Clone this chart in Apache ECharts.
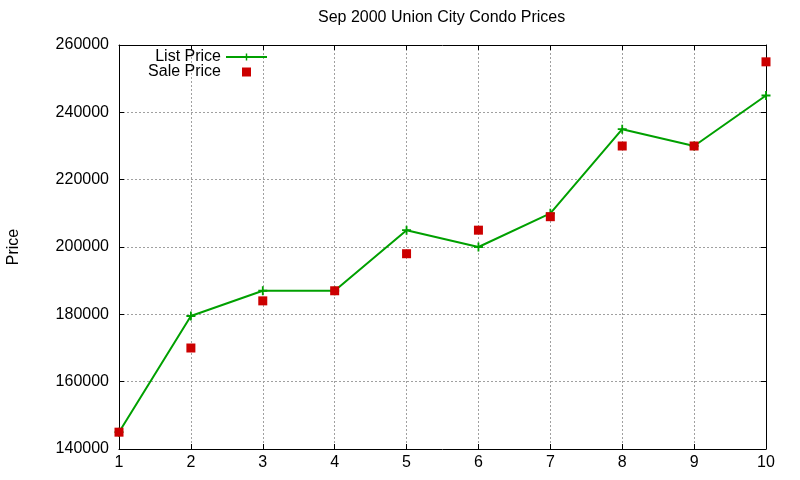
<!DOCTYPE html>
<html>
<head>
<meta charset="utf-8">
<script src="https://cdn.jsdelivr.net/npm/echarts@6/dist/echarts.min.js"></script>
<style>
  html, body { margin: 0; padding: 0; background: #fff; }
  #main { width: 800px; height: 480px; }
</style>
</head>
<body>
<div id="main"></div>
<script>
// data
var months = [1, 2, 3, 4, 5, 6, 7, 8, 9, 10];
var listPrice = [145000, 179500, 187000, 187000, 205000, 200000, 210000, 235000, 230000, 245000];
var salePrice = [145000, 170000, 184000, 187000, 198000, 205000, 209000, 230000, 230000, 255000];

var FONT = '"Liberation Sans", Arial, sans-serif';
var GRID_LINE = { show: true, lineStyle: { color: '#a0a0a0', type: [2, 2], width: 1 } };

function pairs(xs, ys) {
  return xs.map(function (x, i) { return [x, ys[i]]; });
}

var chart = echarts.init(document.getElementById('main'));
chart.setOption({
  animation: false,
  backgroundColor: '#fff',
  title: {
    text: 'Sep 2000 Union City Condo Prices',
    left: 318,
    top: 10,
    padding: 0,
    textStyle: { fontFamily: FONT, fontSize: 16, fontWeight: 'normal', color: '#000' }
  },
  legend: {
    orient: 'vertical',
    right: 527,
    top: 44,
    align: 'right',
    itemWidth: 41,
    itemHeight: 9,
    itemGap: -1,
    symbolKeepAspect: true,
    textStyle: { fontFamily: FONT, fontSize: 16, color: '#000' },
    data: [
      { name: 'List Price' },
      { name: 'Sale Price', icon: 'path://M0,0H10V10H0Z' }
    ]
  },
  grid: { left: 119, right: 34, top: 45, bottom: 31, outerBoundsMode: 'none', containLabel: false },
  xAxis: [{
    type: 'value',
    min: 1, max: 10, interval: 1,
    axisLine: { lineStyle: { color: '#000', width: 1 } },
    axisTick: { inside: true, length: 5, lineStyle: { color: '#000' } },
    axisLabel: { color: '#000', fontFamily: FONT, fontSize: 16, margin: 6 },
    splitLine: GRID_LINE
  }, {
    type: 'value', position: 'top',
    min: 1, max: 10, interval: 1,
    axisLine: { lineStyle: { color: '#000', width: 1 } },
    axisTick: { inside: true, length: 5, lineStyle: { color: '#000' } },
    axisLabel: { show: false },
    splitLine: { show: false }
  }],
  yAxis: [{
    type: 'value',
    min: 140000, max: 260000, interval: 20000,
    name: 'Price',
    nameLocation: 'middle',
    nameGap: 97,
    nameTextStyle: { fontFamily: FONT, fontSize: 16, color: '#000' },
    axisLine: { show: true, lineStyle: { color: '#000', width: 1 } },
    axisTick: { show: true, inside: true, length: 5, lineStyle: { color: '#000' } },
    axisLabel: {
      color: '#000', fontFamily: FONT, fontSize: 16, margin: 10,
      formatter: function (v) { return String(v); }
    },
    splitLine: GRID_LINE
  }, {
    type: 'value', position: 'right',
    min: 140000, max: 260000, interval: 20000,
    axisLine: { show: true, lineStyle: { color: '#000', width: 1 } },
    axisTick: { show: true, inside: true, length: 5, lineStyle: { color: '#000' } },
    axisLabel: { show: false },
    splitLine: { show: false }
  }],
  series: [{
    name: 'List Price',
    type: 'line',
    data: pairs(months, listPrice),
    symbol: 'path://M4,0H6V4H10V6H6V10H4V6H0V4H4Z',
    symbolSize: 9,
    showSymbol: true,
    color: '#00a000',
    lineStyle: { width: 2, color: '#00a000' },
    itemStyle: { color: '#00a000' },
    z: 3
  }, {
    name: 'Sale Price',
    type: 'scatter',
    data: pairs(months, salePrice),
    symbol: 'rect',
    symbolSize: 9,
    color: '#cc0000',
    itemStyle: { color: '#cc0000', opacity: 1 },
    z: 4
  }]
});
</script>
</body>
</html>
